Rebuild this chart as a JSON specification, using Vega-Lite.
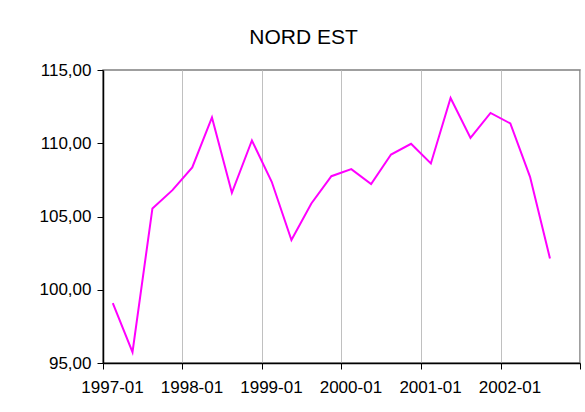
{
  "$schema": "https://vega.github.io/schema/vega-lite/v6.json",
  "width": 477,
  "height": 293,
  "autosize": {"type": "none"},
  "padding": {"left": 103, "top": 70, "right": 5, "bottom": 49},
  "background": "white",
  "config": {
    "font": "Liberation Sans",
    "view": {"stroke": "#808080", "strokeWidth": 1.5}
  },
  "title": {
    "text": "NORD EST",
    "fontSize": 21,
    "fontWeight": "normal",
    "color": "black",
    "anchor": "middle",
    "dx": -38,
    "dy": 28,
    "offset": 24,
    "baseline": "alphabetic"
  },
  "data": {
    "values": [
      {"quarter": "1997-01-01", "value": 99.08},
      {"quarter": "1997-04-01", "value": 95.74},
      {"quarter": "1997-07-01", "value": 105.55},
      {"quarter": "1997-10-01", "value": 106.8},
      {"quarter": "1998-01-01", "value": 108.35},
      {"quarter": "1998-04-01", "value": 111.76},
      {"quarter": "1998-07-01", "value": 106.62},
      {"quarter": "1998-10-01", "value": 110.19},
      {"quarter": "1999-01-01", "value": 107.37},
      {"quarter": "1999-04-01", "value": 103.39},
      {"quarter": "1999-07-01", "value": 105.89},
      {"quarter": "1999-10-01", "value": 107.75},
      {"quarter": "2000-01-01", "value": 108.23},
      {"quarter": "2000-04-01", "value": 107.21},
      {"quarter": "2000-07-01", "value": 109.23},
      {"quarter": "2000-10-01", "value": 109.96},
      {"quarter": "2001-01-01", "value": 108.62},
      {"quarter": "2001-04-01", "value": 113.09},
      {"quarter": "2001-07-01", "value": 110.36},
      {"quarter": "2001-10-01", "value": 112.07},
      {"quarter": "2002-01-01", "value": 111.35},
      {"quarter": "2002-04-01", "value": 107.71},
      {"quarter": "2002-07-01", "value": 102.14}
    ]
  },
  "mark": {"type": "line", "color": "#FF00FF", "strokeWidth": 2, "clip": false},
  "encoding": {
    "x": {
      "field": "quarter",
      "type": "temporal",
      "timeUnit": "yearquarter",
      "bandPosition": 0.5,
      "scale": {"domain": [{"year": 1997, "month": 1, "date": 1}, {"year": 2003, "month": 1, "date": 1}]},
      "axis": {
        "title": null,
        "tickCount": {"interval": "year", "step": 1},
        "labelExpr": "year(datum.value) < 2003 ? timeFormat(datum.value, '%Y-%m') : ''",
        "labelOffset": 9,
        "labelFontSize": 17,
        "labelColor": "black",
        "labelPadding": 10,
        "labelFlush": false,
        "labelOverlap": false,
        "grid": true,
        "gridColor": "#c0c0c0",
        "gridWidth": 1,
        "domainColor": "black",
        "domainWidth": 1.5,
        "tickColor": "black",
        "tickWidth": 1,
        "tickSize": 6
      }
    },
    "y": {
      "field": "value",
      "type": "quantitative",
      "scale": {"domain": [95, 115], "nice": false, "zero": false},
      "axis": {
        "title": null,
        "values": [95, 100, 105, 110, 115],
        "labelExpr": "replace(format(datum.value, '.2f'), '.', ',')",
        "labelFontSize": 17,
        "labelColor": "black",
        "labelPadding": 6,
        "grid": false,
        "domainColor": "black",
        "domainWidth": 1.5,
        "tickColor": "black",
        "tickWidth": 1,
        "tickSize": 6
      }
    }
  }
}
